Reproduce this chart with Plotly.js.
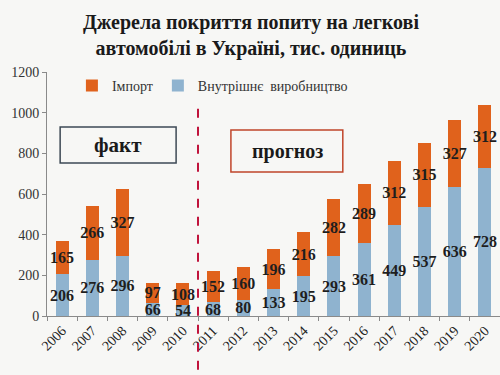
<!DOCTYPE html>
<html><head><meta charset="utf-8">
<script src="https://cdn.plot.ly/plotly-3.0.1.min.js"></script>
<style>html,body{margin:0;padding:0;background:#f7f7f5;}#chart{width:500px;height:375px;}</style>
</head><body><div id="chart"></div>
<script>
const years = ['2006','2007','2008','2009','2010','2011','2012','2013','2014','2015','2016','2017','2018','2019','2020'];
const domestic = [206,276,296,66,54,68,80,133,195,293,361,449,537,636,728];
const imports = [165,266,327,97,108,152,160,196,216,282,289,312,315,327,312];
const yTicks = [0,200,400,600,800,1000,1200];
const titleText = 'Джерела покриття попиту на легкові<br>автомобілі в Україні, тис. одиниць';

const serif = 'Liberation Serif, Times New Roman, serif';
const labelFont = {family: serif, size: 16, color: '#1e1e1e', weight: 'bold'};

const traces = [
  {type:'bar', name:'Внутрішнє  виробництво', x: years, y: domestic,
   marker:{color:'#8fb3cf'}, text: domestic.map(String), textposition:'inside',
   insidetextanchor:'middle', constraintext:'none', textfont: labelFont, textangle:0, legendrank:2},
  {type:'bar', name:'Імпорт', x: years, y: imports,
   marker:{color:'#e0621c'}, text: imports.map(String), textposition:'inside',
   insidetextanchor:'middle', constraintext:'none', textfont: labelFont, textangle:0, legendrank:1}
];

const layout = {
  width:500, height:375,
  margin:{l:47, r:0, t:72, b:59},
  paper_bgcolor:'#f7f7f5', plot_bgcolor:'rgba(0,0,0,0)',
  barmode:'stack', bargap:0.57,
  showlegend:true,
  legend:{orientation:'h', x:0.055, xanchor:'left', y:0.943, yanchor:'middle',
    font:{family:serif, size:14, color:'#333'}, bgcolor:'rgba(0,0,0,0)', traceorder:'normal'},
  xaxis:{type:'category', showline:true, linecolor:'#8a8a8a', linewidth:1,
    ticks:'outside', tickson:'boundaries', ticklen:4, tickcolor:'#8a8a8a',
    tickangle:-45, tickfont:{family:serif, size:14, color:'#222'}, showgrid:false, fixedrange:true},
  yaxis:{range:[0,1200], tickvals:yTicks, ticktext:yTicks.map(String), showline:true, linecolor:'#8a8a8a',
    ticks:'outside', ticklen:4, tickcolor:'#8a8a8a', showgrid:false, zeroline:false,
    tickfont:{family:serif, size:14, color:'#333'}},
  shapes:[
    {type:'line', xref:'x', yref:'paper', x0:4.5, x1:4.5, y0:-0.22, y1:0.85,
     line:{color:'#c0143c', width:2, dash:'dash'}},
    {type:'rect', xref:'paper', yref:'paper', x0:0.029, x1:0.285, y0:0.627, y1:0.775,
     line:{color:'#3e4a55', width:1.5}, fillcolor:'rgba(0,0,0,0)'},
    {type:'rect', xref:'paper', yref:'paper', x0:0.406, x1:0.653, y0:0.59, y1:0.762,
     line:{color:'#c0452a', width:1.5}, fillcolor:'rgba(0,0,0,0)'}
  ],
  annotations:[
    {xref:'paper', yref:'paper', x:0.45, y:1.15, xanchor:'center', yanchor:'middle',
     text:titleText, showarrow:false,
     font:{family:serif, size:20, color:'#1a1a1a', weight:'bold'}},
    {xref:'paper', yref:'paper', x:0.157, y:0.70, xanchor:'center', yanchor:'middle',
     text:'факт', showarrow:false,
     font:{family:serif, size:21, color:'#1a1a1a', weight:'bold'}},
    {xref:'paper', yref:'paper', x:0.53, y:0.676, xanchor:'center', yanchor:'middle',
     text:'прогноз', showarrow:false,
     font:{family:serif, size:20, color:'#1a1a1a', weight:'bold'}}
  ]
};
Plotly.newPlot('chart', traces, layout, {displayModeBar:false, staticPlot:true});
</script></body></html>
